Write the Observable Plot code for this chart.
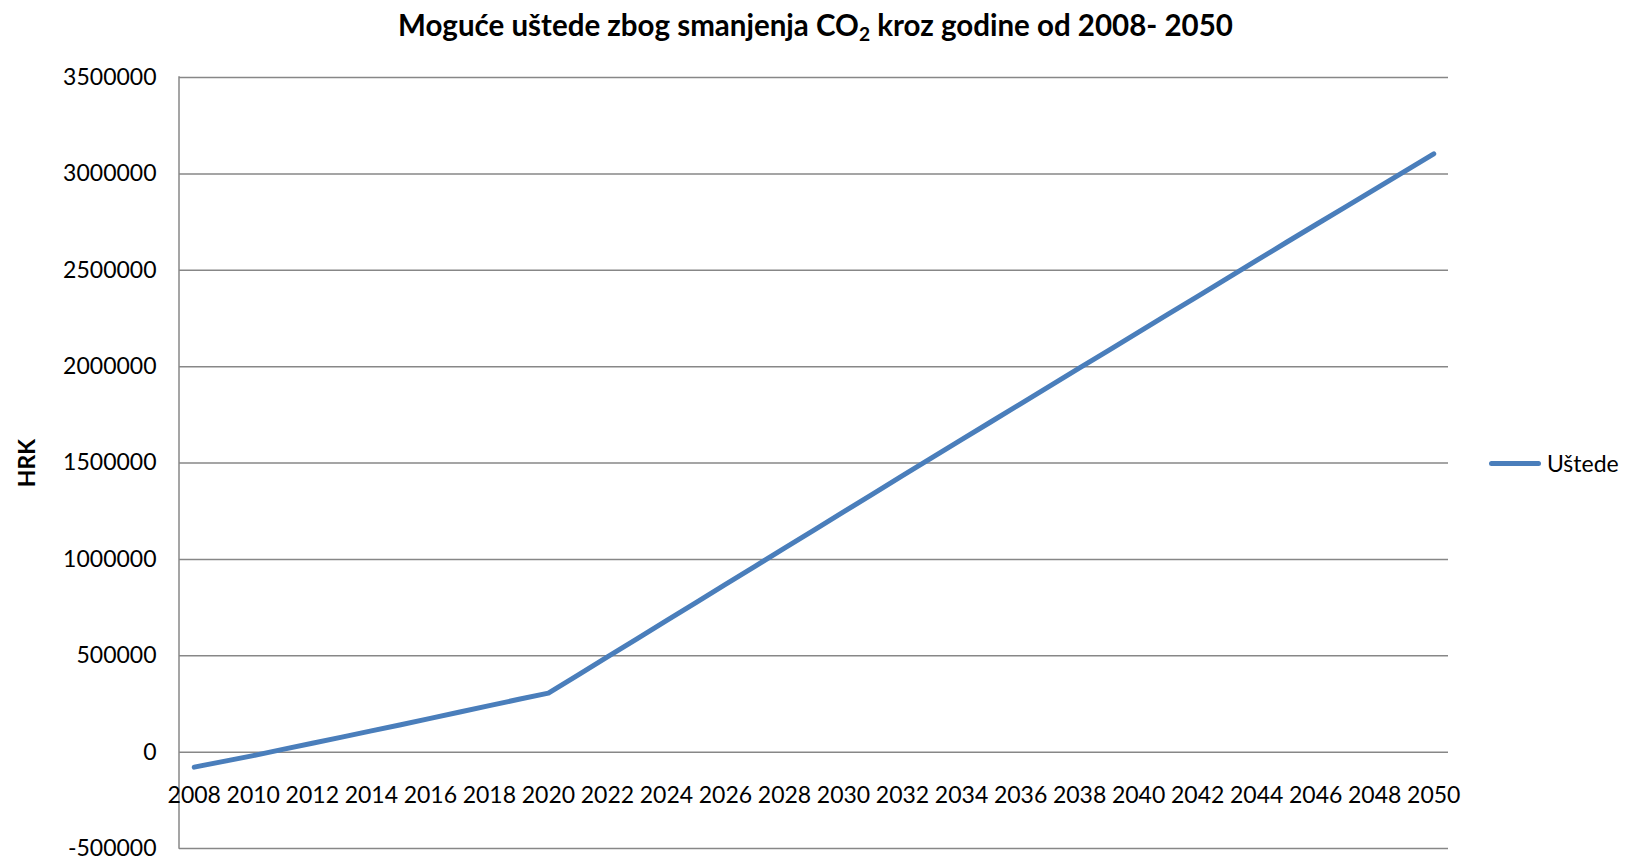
<!DOCTYPE html>
<html>
<head>
<meta charset="utf-8">
<script src="https://cdn.jsdelivr.net/npm/d3@7"></script>
<script src="https://cdn.jsdelivr.net/npm/@observablehq/plot@0.6"></script>
<style>
  body { margin: 0; background: #fff; font-family: Lato, "Open Sans", sans-serif; }
  #wrap { position: relative; width: 1631px; height: 860px; overflow: hidden; }
  #title { position: absolute; left: 0; top: 0; width: 1631px; height: 50px; line-height: 50px;
           text-align: center; font-weight: bold; font-size: 29.5px; color: #000; }
  #title sub { font-size: 0.65em; vertical-align: -0.25em; line-height: 0; }
  #chart { position: absolute; left: 0; top: 50px; }
  #ylabel { position: absolute; left: 26px; top: 463px; transform: translate(-50%, -50%) rotate(-90deg);
            font-weight: bold; font-size: 23px; white-space: nowrap; }
  #legend { position: absolute; left: 1489px; top: 448px; height: 30px; display: flex; align-items: center; font-size: 23px; }
  #legend .sw { width: 52px; height: 5px; border-radius: 3px; background: #4A7EBB; margin-right: 6px; }
</style>
</head>
<body>
<div id="wrap">
  <div id="title">Moguće uštede zbog smanjenja CO<sub>2</sub> kroz godine od 2008- 2050</div>
  <div id="chart"></div>
  <div id="ylabel">HRK</div>
  <div id="legend"><div class="sw"></div><span>Uštede</span></div>
</div>
<script>
const years = [2008, 2009, 2010, 2011, 2012, 2013, 2014, 2015, 2016, 2017, 2018, 2019, 2020,
  2021, 2022, 2023, 2024, 2025, 2026, 2027, 2028, 2029, 2030, 2031, 2032, 2033, 2034, 2035,
  2036, 2037, 2038, 2039, 2040, 2041, 2042, 2043, 2044, 2045, 2046, 2047, 2048, 2049, 2050];
const ustede = [-78000, -48000, -18000, 14000, 46000, 78000, 110000, 142000, 175000, 208000, 241000, 274000, 306000,
  400000, 494000, 588000, 682000, 776000, 870000, 964000, 1058000, 1152000, 1246000, 1340000, 1434000, 1528000, 1621000, 1714000,
  1807000, 1900000, 1993000, 2086000, 2179000, 2272000, 2365000, 2458000, 2551000, 2644000, 2736000, 2828000, 2920000, 3012000, 3104000];
const xTickLabels = [2008, 2010, 2012, 2014, 2016, 2018, 2020, 2022, 2024, 2026, 2028, 2030, 2032,
  2034, 2036, 2038, 2040, 2042, 2044, 2046, 2048, 2050];
const yTicks = [-500000, 0, 500000, 1000000, 1500000, 2000000, 2500000, 3000000, 3500000];
const seriesName = "Uštede";

const data = years.map((y, i) => ({year: y, value: ustede[i], series: seriesName}));

const gridColor = "#878787";
const lineColor = "#4A7EBB";

const plot = Plot.plot({
  width: 1631,
  height: 810,
  marginLeft: 179,
  marginRight: 183,
  marginTop: 27,
  marginBottom: 12,
  style: {fontFamily: "Lato, 'Open Sans', sans-serif", color: "#000", background: "#fff", overflow: "visible"},
  x: {type: "point", domain: years, padding: 0.5, round: false, axis: null},
  y: {domain: [-500000, 3500000], axis: null},
  marks: [
    Plot.gridY(yTicks, {stroke: gridColor, strokeOpacity: 1, strokeWidth: 1.5}),
    (index, scales, values, dims) => {
      const l = document.createElementNS("http://www.w3.org/2000/svg", "line");
      l.setAttribute("x1", dims.marginLeft);
      l.setAttribute("x2", dims.marginLeft);
      l.setAttribute("y1", dims.marginTop - 0.75);
      l.setAttribute("y2", dims.height - dims.marginBottom + 0.75);
      l.setAttribute("stroke", gridColor);
      l.setAttribute("stroke-width", 1.5);
      return l;
    },
    Plot.axisY(yTicks, {tickSize: 0, tickPadding: 23, fontSize: 23, tickFormat: d => String(d), label: null}),
    Plot.text(xTickLabels, {x: d => d, y: () => 0, dy: 43, fontSize: 23, fill: "#000", text: d => String(d)}),
    Plot.line(data, {x: "year", y: "value", stroke: lineColor, strokeWidth: 5, strokeLinecap: "round", strokeLinejoin: "round"})
  ]
});
document.getElementById("chart").appendChild(plot);
</script>
</body>
</html>
